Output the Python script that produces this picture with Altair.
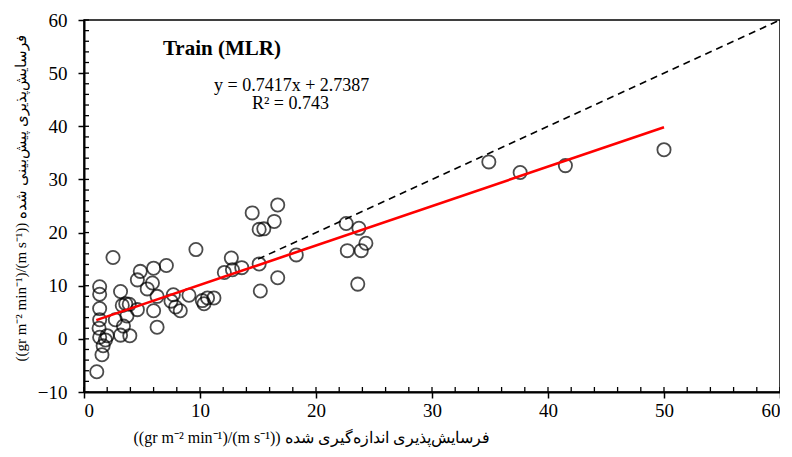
import altair as alt
import pandas as pd

# measured (x) vs predicted (y) erodibility
measured = [1.1, 1.35, 1.35, 1.35, 1.35, 1.3, 1.35, 1.85, 1.65, 1.55, 2.0,
            2.5, 2.7, 3.15, 3.3, 3.6, 3.9, 3.15, 3.4, 3.7, 3.95,
            4.6, 4.85, 4.6, 6.0, 5.45, 5.9, 6.3, 6.0, 6.3, 7.1,
            9.65, 7.7, 7.5, 7.9, 8.3, 9.05, 10.2, 10.35, 10.65, 11.2,
            12.1, 12.7, 12.8, 13.6, 14.5, 15.1, 15.5, 15.1, 15.2, 16.4,
            16.7, 16.7, 18.3, 22.6, 23.7, 24.3, 22.7, 23.9, 23.6,
            34.9, 37.6, 41.5, 50.0]
predicted = [-6.2, 9.8, 8.4, 5.7, 3.6, 2.0, 0.3, -0.2, -1.3, -3.0, 0.6,
             15.3, 3.6, 8.9, 6.3, 6.6, 6.5, 0.7, 2.4, 4.3, 0.6,
             5.5, 12.7, 11.1, 13.3, 9.4, 10.5, 8.0, 5.3, 2.2, 13.8,
             16.8, 8.3, 7.1, 6.0, 5.3, 8.2, 7.2, 6.6, 7.7, 7.7,
             12.5, 15.2, 13.0, 13.4, 23.7, 20.6, 20.7, 14.1, 9.0, 22.1,
             25.2, 11.5, 15.8, 21.7, 20.8, 18.0, 16.6, 16.6, 10.3,
             33.3, 31.3, 32.6, 35.6]

slope = 0.7417
intercept = 2.7387
fit_x = [1.06, 50.0]
ref_x = [15, 60]

x_ticks = [0, 10, 20, 30, 40, 50, 60]
y_ticks = [-10, 0, 10, 20, 30, 40, 50, 60]
minor_x = list(range(0, 61, 2))
minor_y = list(range(-10, 61, 2))

title_text = ["Train (MLR)"]
title_x = [6.8]
title_y = [54.6]
eq_text = ["y = 0.7417x + 2.7387", "R² = 0.743"]
eq_x = [17.9, 17.8]
eq_y = [47.5, 44.1]

W, H = 696, 372
SERIF = "Liberation Serif"

xs = alt.Scale(domain=[0, 60], nice=False, zero=False)
ys = alt.Scale(domain=[-10, 60], nice=False, zero=False)

x_title = "((gr m⁻² min⁻¹)/(m s⁻¹)) فرسایش‌پذیری اندازه‌گیری شده"
y_title = "((gr m⁻² min⁻¹)/(m s⁻¹)) فرسایش‌پذیری پیش‌بینی شده"

x_axis = alt.Axis(values=x_ticks, title=x_title, grid=False, tickSize=6,
                  labelPadding=3, titleFontSize=16,
                  titleAlign="left", titleX=49, titleY=50,
                  titleBaseline="alphabetic")
y_axis = alt.Axis(values=y_ticks, title=y_title, grid=False, tickSize=6,
                  labelPadding=11, titleFontSize=15,
                  titleX=-64, titleY=178, titleAlign="center",
                  titleBaseline="middle", titleAngle=-90)

pts_df = pd.DataFrame({"measured": measured, "predicted": predicted})
fit_df = pd.DataFrame({"x": fit_x})
ref_df = pd.DataFrame({"x": ref_x, "y": ref_x})

points = alt.Chart(pts_df).mark_point(
    shape="circle", filled=False, size=175, strokeWidth=1.8, color="black"
).encode(
    x=alt.X("measured:Q", scale=xs, axis=x_axis),
    y=alt.Y("predicted:Q", scale=ys, axis=y_axis),
)

ref_line = alt.Chart(ref_df).mark_line(
    color="black", strokeWidth=1.6, strokeDash=[7, 5]
).encode(
    x=alt.X("x:Q", scale=xs, axis=x_axis),
    y=alt.Y("y:Q", scale=ys, axis=y_axis),
)

fit_line = alt.Chart(fit_df).transform_calculate(
    y=f"{slope} * datum.x + {intercept}"
).mark_line(color="#ff0000", strokeWidth=2.6).encode(
    x=alt.X("x:Q", scale=xs, axis=x_axis),
    y=alt.Y("y:Q", scale=ys, axis=y_axis),
)

minor_x_ticks = alt.Chart(pd.DataFrame({"v": minor_x})).mark_rule(
    color="black", strokeWidth=1.3
).encode(
    x=alt.X("v:Q", scale=xs, axis=x_axis),
    y=alt.value(H),
    y2=alt.value(H - 5),
)
minor_y_ticks = alt.Chart(pd.DataFrame({"v": minor_y})).mark_rule(
    color="black", strokeWidth=1.3
).encode(
    y=alt.Y("v:Q", scale=ys, axis=y_axis),
    x=alt.value(0),
    x2=alt.value(5),
)

title_mark = alt.Chart(pd.DataFrame({"t": title_text, "x": title_x, "y": title_y})).mark_text(
    font=SERIF, fontSize=21, fontWeight="bold", align="left", baseline="middle", color="black"
).encode(x=alt.X("x:Q", scale=xs), y=alt.Y("y:Q", scale=ys), text="t:N")

eq_mark = alt.Chart(pd.DataFrame({"t": eq_text, "x": eq_x, "y": eq_y})).mark_text(
    font=SERIF, fontSize=18, align="center", baseline="middle", color="black"
).encode(x=alt.X("x:Q", scale=xs), y=alt.Y("y:Q", scale=ys), text="t:N")

chart = alt.layer(
    ref_line, points, fit_line, minor_x_ticks, minor_y_ticks, title_mark, eq_mark
).properties(
    width=W, height=H,
    autosize=alt.AutoSizeParams(type="none"),
    padding={"left": 76, "top": 12, "right": 0, "bottom": 56},
    background="white",
).configure_view(
    stroke="black", strokeWidth=1.5
).configure_axis(
    labelFont=SERIF, labelFontSize=19, labelColor="black",
    titleFont=SERIF, titleFontWeight="normal", titleColor="black",
    tickColor="black", tickWidth=1.5, domainColor="black", domainWidth=2,
    grid=False,
)

chart.save("out.html", embed_options={"renderer": "svg", "actions": False})
